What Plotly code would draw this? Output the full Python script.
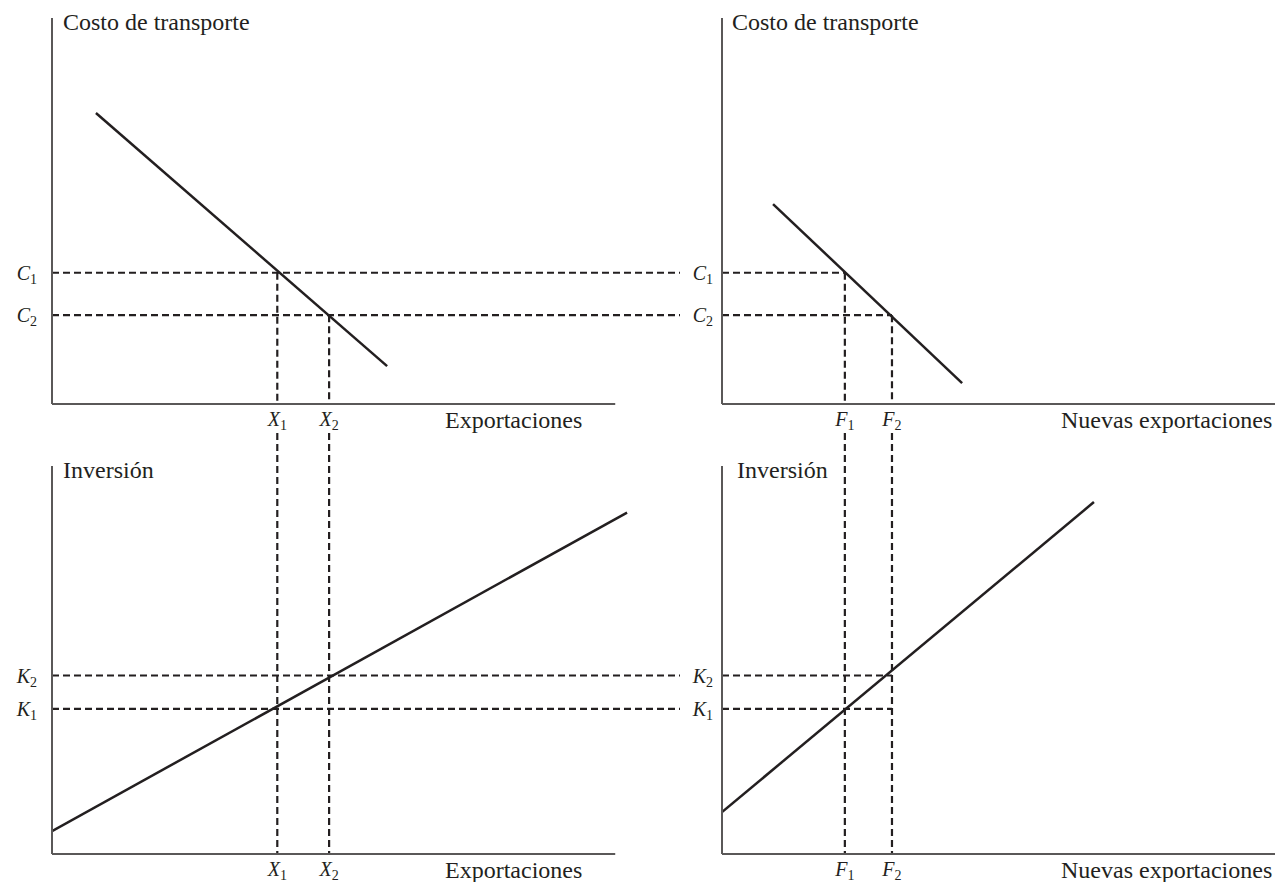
import plotly.graph_objects as go

# key levels (panel data units)
X1, X2 = 40.0, 49.2        # exportaciones
F1, F2 = 21.9, 30.3        # nuevas exportaciones
C1, C2 = 34.0, 23.0        # costo de transporte
K1, K2 = 37.4, 46.0        # inversión

# curves
cost_exp_x = [7.8, 59.5]
cost_exp_y = [75.4, 9.8]
cost_new_x = [9.1, 42.8]
cost_new_y = [51.8, 5.4]
inv_exp_x = [0.0, 102.1]
inv_exp_y = [5.9, 88.0]
inv_new_x = [0.0, 66.3]
inv_new_y = [10.8, 90.7]

x_labels = ["<i>X</i><sub>1</sub>", "<i>X</i><sub>2</sub>"]
f_labels = ["<i>F</i><sub>1</sub>", "<i>F</i><sub>2</sub>"]
c_labels = ["<i>C</i><sub>1</sub>", "<i>C</i><sub>2</sub>"]
k_labels = ["<i>K</i><sub>2</sub>", "<i>K</i><sub>1</sub>"]

INK = "#231f20"
AXC = "#5a5858"
FONT = "Liberation Serif"
# page body keeps an 8px margin, so the figure is a bit smaller than the window
OFF = 8
W, H = 1283 - OFF, 882 - OFF

LX_MAX = 111.5   # left panels run a bit past the drawn axis
BY_MAX = 108.5   # bottom panels run up into the gap for the dashes

fig = go.Figure()

def dash(x, y, xa, ya):
    fig.add_trace(go.Scatter(x=x, y=y, mode="lines", xaxis=xa, yaxis=ya,
                             line=dict(color=INK, width=2.2, dash="7px,4px"),
                             hoverinfo="skip", showlegend=False))

def curve(x, y, xa, ya):
    fig.add_trace(go.Scatter(x=x, y=y, mode="lines", xaxis=xa, yaxis=ya,
                             line=dict(color=INK, width=2.5),
                             hoverinfo="skip", showlegend=False))

# top-left: costo vs exportaciones
for c in (C1, C2):
    dash([0, LX_MAX], [c, c], "x", "y")
dash([X1, X1], [C1, 0], "x", "y")
dash([X2, X2], [C2, 0], "x", "y")
curve(cost_exp_x, cost_exp_y, "x", "y")

# top-right: costo vs nuevas exportaciones
dash([0, F1], [C1, C1], "x2", "y2")
dash([0, F2], [C2, C2], "x2", "y2")
dash([F1, F1], [C1, 0], "x2", "y2")
dash([F2, F2], [C2, 0], "x2", "y2")
curve(cost_new_x, cost_new_y, "x2", "y2")

# bottom-left: inversión vs exportaciones
for k in (K1, K2):
    dash([0, LX_MAX], [k, k], "x3", "y3")
for xv in (X1, X2):
    dash([xv, xv], [BY_MAX, 0], "x3", "y3")
curve(inv_exp_x, inv_exp_y, "x3", "y3")

# bottom-right: inversión vs nuevas exportaciones
for k in (K1, K2):
    dash([0, F2], [k, k], "x4", "y4")
for fv in (F1, F2):
    dash([fv, fv], [BY_MAX, 0], "x4", "y4")
curve(inv_new_x, inv_new_y, "x4", "y4")

def px_x(p):
    return (p - OFF) / W

def px_y(p):
    return 1 - (p - OFF) / H

tick_font = dict(family=FONT, size=20, color=INK)
base = dict(showgrid=False, zeroline=False, showline=False, ticks="",
            tickfont=tick_font, fixedrange=True)

left_dom = [px_x(52), px_x(680)]
right_dom = [px_x(722), 1.0]
top_dom = [px_y(404), px_y(18)]
bot_dom = [px_y(854), px_y(433)]

fig.update_layout(
    xaxis=dict(base, domain=left_dom, range=[0, LX_MAX], anchor="y",
               tickvals=[X1, X2], ticktext=x_labels, ticklabelstandoff=1),
    yaxis=dict(base, domain=top_dom, range=[0, 100], anchor="x",
               tickvals=[C1, C2], ticktext=c_labels, ticklabelstandoff=14),
    xaxis2=dict(base, domain=right_dom, range=[0, 100], anchor="y2",
                tickvals=[F1, F2], ticktext=f_labels, ticklabelstandoff=1),
    yaxis2=dict(base, domain=top_dom, range=[0, 100], anchor="x2",
                tickvals=[C1, C2], ticktext=c_labels, ticklabelstandoff=8),
    xaxis3=dict(base, domain=left_dom, range=[0, LX_MAX], anchor="y3",
                tickvals=[X1, X2], ticktext=x_labels, ticklabelstandoff=1),
    yaxis3=dict(base, domain=bot_dom, range=[0, BY_MAX], anchor="x3",
                tickvals=[K2, K1], ticktext=k_labels, ticklabelstandoff=14),
    xaxis4=dict(base, domain=right_dom, range=[0, 100], anchor="y4",
                tickvals=[F1, F2], ticktext=f_labels, ticklabelstandoff=1),
    yaxis4=dict(base, domain=bot_dom, range=[0, BY_MAX], anchor="x4",
                tickvals=[K2, K1], ticktext=k_labels, ticklabelstandoff=8),
)

# axis lines
for xa, ya in [("x", "y"), ("x2", "y2"), ("x3", "y3"), ("x4", "y4")]:
    fig.add_shape(type="line", xref=xa, yref=ya + " domain",
                  x0=0, x1=100, y0=0, y1=0, line=dict(color=AXC, width=2))
    fig.add_shape(type="line", xref=xa + " domain", yref=ya,
                  x0=0, x1=0, y0=0, y1=100, line=dict(color=AXC, width=2))

title_font = dict(family=FONT, size=24, color=INK)
def note(text, xref, x, yref, y, xanchor, yanchor, xshift=0, yshift=0):
    fig.add_annotation(text=text, xref=xref, x=x, yref=yref, y=y,
                       xanchor=xanchor, yanchor=yanchor, xshift=xshift,
                       yshift=yshift, showarrow=False, font=title_font)

note("Costo de transporte", "x domain", 0, "y domain", 1, "left", "middle", 9, -4)
note("Costo de transporte", "x2 domain", 0, "y2 domain", 1, "left", "middle", 8, -4)
note("Inversión", "x3 domain", 0, "y3", 100, "left", "middle", 9, -4)
note("Inversión", "x4 domain", 0, "y4", 100, "left", "middle", 13, -4)
note("Exportaciones", "x", 69.8, "y domain", 0, "left", "top", -2, -1)
note("Exportaciones", "x3", 69.8, "y3 domain", 0, "left", "top", -2, -1)
note("Nuevas exportaciones", "x2 domain", 1, "y2 domain", 0, "right", "top", -9, -1)
note("Nuevas exportaciones", "x4 domain", 1, "y4 domain", 0, "right", "top", -9, -1)

fig.update_layout(width=W, height=H, margin=dict(l=0, r=0, t=0, b=0),
                  paper_bgcolor="white", plot_bgcolor="white",
                  showlegend=False)

fig.write_html("out.html", config={"displayModeBar": False})
